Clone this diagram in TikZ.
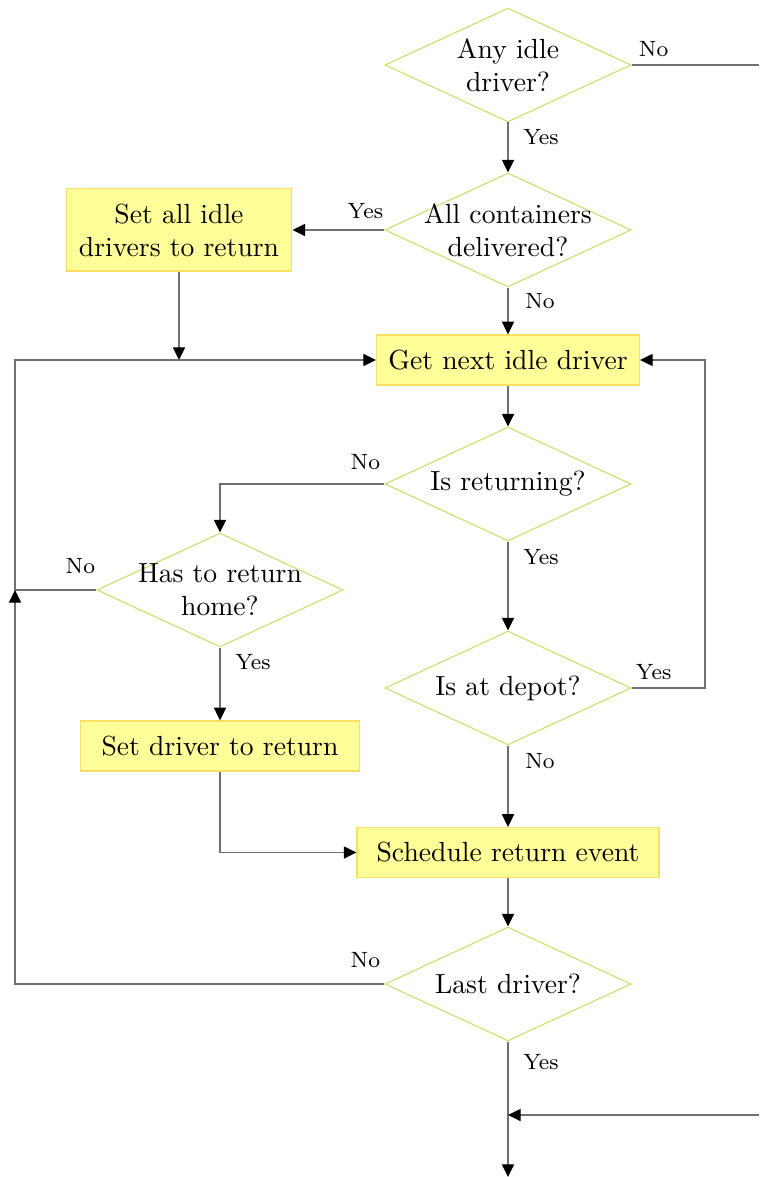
\documentclass[tikz,border=0pt]{standalone}
\usetikzlibrary{shapes.geometric,arrows.meta,calc}
\definecolor{decline}{RGB}{198,226,110}
\definecolor{boxfill}{RGB}{255,255,153}
\definecolor{boxline}{RGB}{250,222,100}
\definecolor{flowline}{RGB}{112,112,112}
\begin{document}
\begin{tikzpicture}[x=0.3617pt,y=-0.3617pt,
  decision/.style={diamond, draw=decline, line width=0.4pt, inner sep=0pt,
    minimum width=89pt, minimum height=41.2pt},
  dtext/.style={align=center, inner sep=0pt},
  process/.style={rectangle, draw=boxline, fill=boxfill, line width=0.4pt,
    align=center, inner sep=0pt, minimum height=18.1pt},
  flow/.style={draw=flowline, line width=0.4pt,
    -{Triangle[length=4.6pt,width=4.4pt,color=black]}},
  plain/.style={draw=flowline, line width=0.4pt},
  lbl/.style={font=\footnotesize, inner sep=0pt}]
\useasboundingbox (0,0) rectangle (759,1177);

% decisions
\node[decision, label={[dtext]center:Any idle\\driver?}] (d1) at (508,65) {};
\node[decision, label={[dtext]center:All containers\\delivered?}] (d2) at (508,230) {};
\node[decision, label={[dtext]center:Is returning?}] (d3) at (508,484) {};
\node[decision, label={[dtext]center:Has to return\\home?}] (d4) at (220,590) {};
\node[decision, label={[dtext]center:Is at depot?}] (d5) at (508,688) {};
\node[decision, label={[dtext]center:Last driver?}] (d6) at (508,984) {};

% actions
\node[process, minimum width=81.7pt, minimum height=29.7pt] (b1) at (179,230) {Set all idle\\drivers to return};
\node[process, minimum width=95.1pt] (b2) at (508,360) {Get next idle driver};
\node[process, minimum width=100.9pt] (b3) at (220,746) {Set driver to return};
\node[process, minimum width=109.2pt] (b4) at (508,852.5) {Schedule return event};

% junctions and free ends
\coordinate (outR) at (759,65);
\coordinate (jB1) at (179,360);
\coordinate (loopL) at (15,590);
\coordinate (loopLB) at (15,984);
\coordinate (loopR) at (705,688);
\coordinate (jEnd) at (508,1115);
\coordinate (inR) at (759,1115);
\coordinate (outB) at (508,1177);

% connectors
\draw[plain] (d1.east) -- (outR);
\draw[flow] (d1.south) -- (d2.north);
\draw[flow] (d2.west) -- (b1.east);
\draw[flow] (d2.south) -- (b2.north);
\draw[flow] (b1.south) -- (jB1);
\draw[flow] (d4.west) -- (loopL) |- (b2.west);
\draw[flow] (b2.south) -- (d3.north);
\draw[flow] (d3.west) -| (d4.north);
\draw[flow] (d3.south) -- (d5.north);
\draw[flow] (d5.east) -- (loopR) |- (b2.east);
\draw[flow] (d4.south) -- (b3.north);
\draw[flow] (d5.south) -- (b4.north);
\draw[flow] (b3.south) |- (b4.west);
\draw[flow] (b4.south) -- (d6.north);
\draw[flow] (d6.west) -- (loopLB) -- (loopL);
\draw[flow] (d6.south) -- (outB);
\draw[flow] (inR) -- (jEnd);

% branch labels
\node[lbl] (l1) at ($(d1.east)+(22,-16)$) {No};
\node[lbl] (l2) at ($(d1.south)+(33,15)$) {Yes};
\node[lbl] (l3) at ($(d2.west)+(-19,-19)$) {Yes};
\node[lbl] (l4) at ($(d2.south)+(32,14)$) {No};
\node[lbl] (l5) at ($(d3.west)+(-19,-22)$) {No};
\node[lbl] (l6) at ($(d3.south)+(33,16)$) {Yes};
\node[lbl] (l7) at ($(d4.west)+(-16,-24)$) {No};
\node[lbl] (l8) at ($(d4.south)+(33,15)$) {Yes};
\node[lbl] (l9) at ($(d5.east)+(22,-16)$) {Yes};
\node[lbl] (l10) at ($(d5.south)+(32,16)$) {No};
\node[lbl] (l11) at ($(d6.west)+(-19,-24)$) {No};
\node[lbl] (l12) at ($(d6.south)+(33,21)$) {Yes};
\end{tikzpicture}
\end{document}
